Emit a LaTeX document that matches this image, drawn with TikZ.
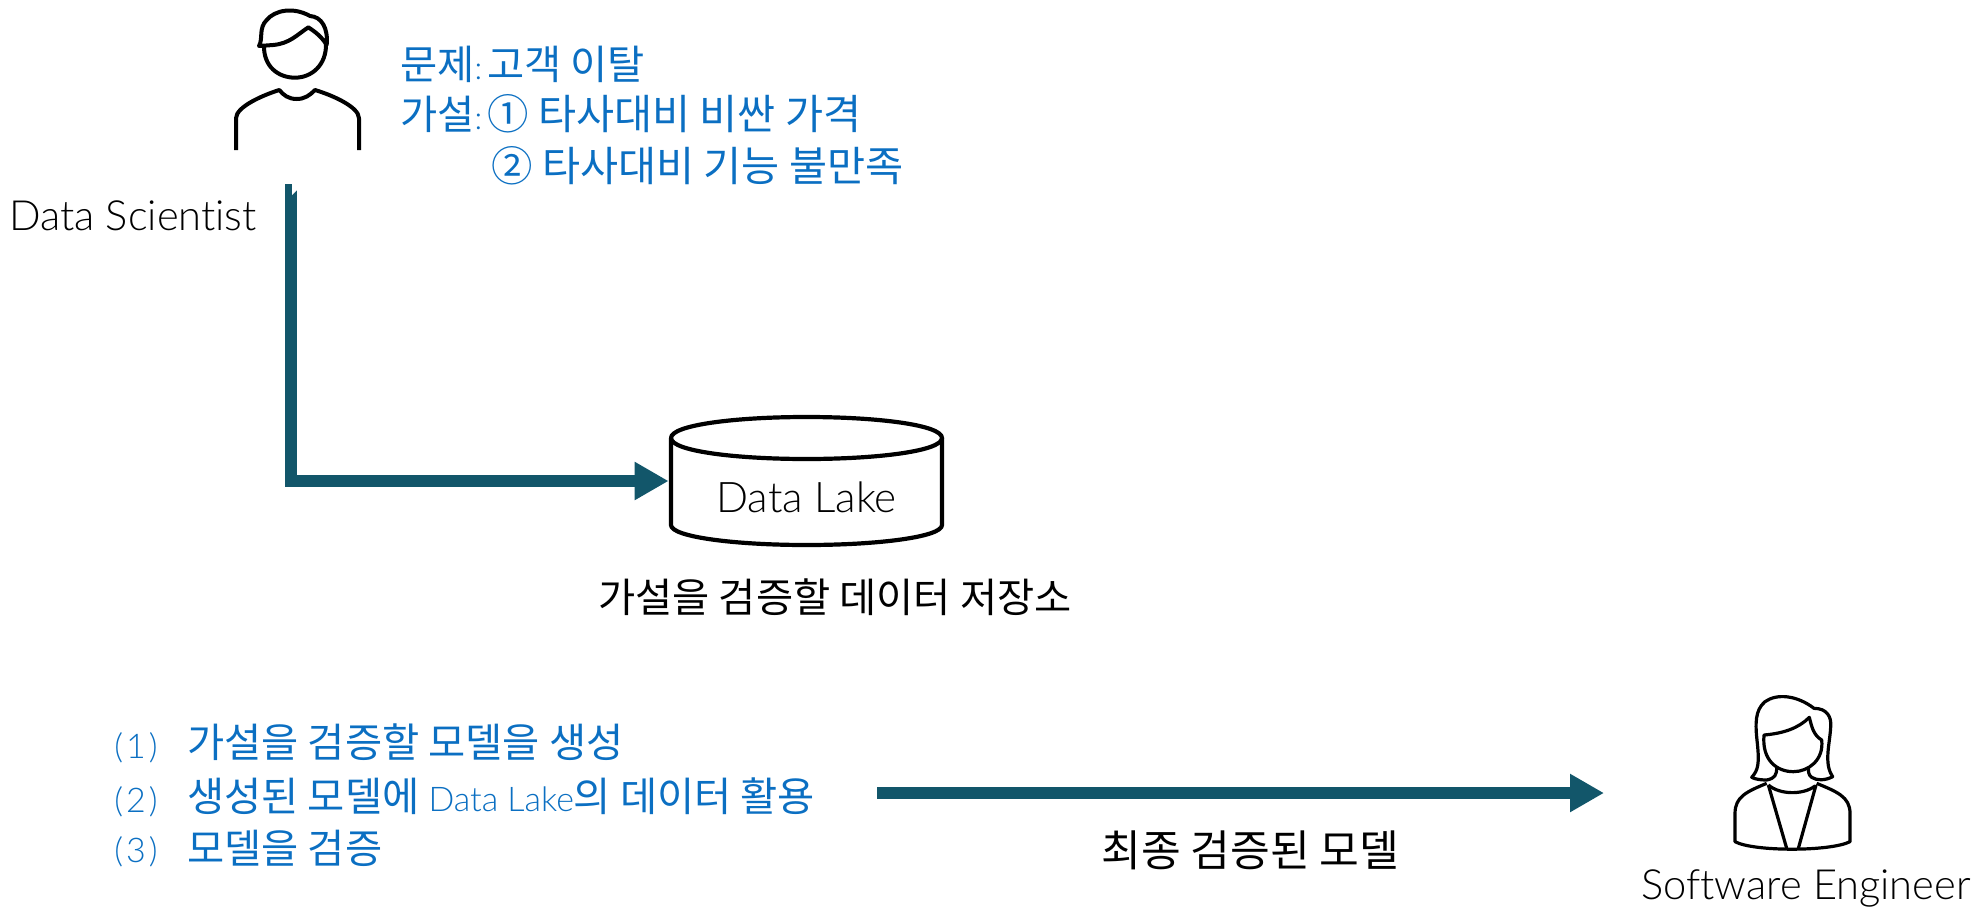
\documentclass[tikz,border=0pt]{standalone}
\usepackage{fontspec}
\usetikzlibrary{arrows.meta}
\setmainfont{Noto Sans CJK KR}
\newfontfamily\lat[Ligatures=NoCommon]{Lato Light}
\definecolor{teal}{HTML}{12566A}
\definecolor{blue}{HTML}{0B6FC2}
\newcommand{\colonmark}{{\lat\fontsize{16}{18}\selectfont:}}
\newcommand{\parnum}[1]{{\lat\fontsize{17}{19}\selectfont(\kern1.5pt#1\kern1.5pt)}}
\tikzset{
  flow/.style={draw=teal,line width=6pt,-{Triangle[length=17pt,width=18pt]}},
  icon/.style={draw=black,line width=2pt,line join=round},
  iconthin/.style={draw=black,line width=1.6pt,line join=round},
  txt/.style={anchor=west,inner sep=0pt,text=black},
  btxt/.style={txt,text=blue},
  ko/.style={font=\fontsize{20.2}{24}\selectfont},
  kowide/.style={font=\fontsize{20.7}{24}\selectfont},
  kofinal/.style={font=\fontsize{21.6}{24}\selectfont},
  en/.style={font=\lat\fontsize{20.8}{25}\selectfont},
}
\begin{document}
\begin{tikzpicture}[x=0.5pt,y=-0.5pt]
\useasboundingbox (0,0) rectangle (1984,910);
\begin{scope}[shift={(200,0)},x=.16667pt,y=-.16667pt]
  \draw[icon] (192,135) .. controls (190,200) and (235,233) .. (285,233) .. controls (335,233) and (380,195) .. (378,130);
  \draw[icon] (177,138) .. controls (190,115) and (175,85) .. (200,60) .. controls (225,30) and (280,20) .. (330,48) .. controls (365,50) and (385,85) .. (380,135) .. controls (365,110) and (345,95) .. (325,82) .. controls (290,105) and (270,130) .. (220,135) -- cycle;
  \draw[icon] (108,450) -- (108,355) .. controls (108,320) and (190,285) .. (238,270) .. controls (250,285) and (265,297) .. (290,297) .. controls (315,297) and (330,285) .. (345,270) .. controls (395,285) and (477,320) .. (477,355) -- (477,450);
\end{scope}
\begin{scope}[shift={(1620,680)},x=.16667pt,y=-.16667pt]
  \draw[iconthin] (432,165) .. controls (490,160) and (535,145) .. (568,112) .. controls (575,140) and (580,165) .. (605,180) .. controls (612,240) and (565,275) .. (520,275) .. controls (470,275) and (425,240) .. (432,165) -- cycle;
  \draw[iconthin] (470,262) .. controls (470,285) and (465,295) .. (440,300) .. controls (425,300) and (405,298) .. (395,292) .. controls (415,270) and (418,250) .. (412,190) .. controls (405,130) and (405,90) .. (435,65) .. controls (470,40) and (530,45) .. (582,85) .. controls (620,85) and (635,110) .. (632,140) .. controls (630,190) and (610,250) .. (638,290) .. controls (615,302) and (590,302) .. (575,292) .. controls (565,285) and (565,275) .. (565,262);
  \draw[iconthin] (440,310) .. controls (380,335) and (345,350) .. (345,400) -- (345,485) .. controls (400,515) and (630,515) .. (690,485) -- (690,400) .. controls (690,350) and (650,335) .. (590,310);
  \draw[iconthin] (445,315) .. controls (480,345) and (550,345) .. (585,318);
  \draw[iconthin] (445,315) -- (500,505);
  \draw[iconthin] (588,315) -- (535,505);
\end{scope}
% data lake
\node[minimum width=135.5pt,minimum height=64pt,inner sep=0pt] (lake) at (806.5,481) {};
\draw[icon,line width=2.1pt] (671,438) .. controls (671,425) and (735,417) .. (806.5,417) .. controls (878,417) and (942,425) .. (942,438) .. controls (942,451) and (878,459) .. (806.5,459) .. controls (735,459) and (671,451) .. (671,438) -- cycle;
\draw[icon,line width=2.1pt] (671,438) -- (671,525) .. controls (671,537) and (735,545) .. (806.5,545) .. controls (878,545) and (942,537) .. (942,525) -- (942,438);
\node[txt,font=\lat\fontsize{21.1}{26}\selectfont] (lakelabel) at (716,497) {Data Lake};
% connectors
\coordinate (dsout) at (291,184);
\draw[flow,shorten >=1pt] (dsout) |- (lake.west);
\fill[white] (292,183) -- (298,183) -- (298,189) -- (292,195) -- cycle;
\coordinate (modelout) at (877,793);
\coordinate (modelin) at (1604,793);
\draw[flow] (modelout) -- (modelin);
% labels
\node[txt,en] (ds) at (9,216) {Data Scientist};
\node[txt,en] (se) at (1641,888) {Software Engineer};
\node[btxt,ko] (p1) at (400,64) {문제\colonmark};
\node[btxt,ko] (p2) at (487,64) {고객 이탈};
\node[btxt,ko] (h1) at (400,114) {가설\colonmark};
\node[btxt,kowide] (h2) at (487,114) {① 타사대비 비싼 가격};
\node[btxt,kowide] (h3) at (491,166) {② 타사대비 기능 불만족};
\node[txt,ko] (store) at (598,597) {가설을 검증할 데이터 저장소};
\node[btxt,ko] (n1) at (114,748) {\parnum{1}};
\node[btxt,ko] (n2) at (114,802) {\parnum{2}};
\node[btxt,ko] (n3) at (114,852) {\parnum{3}};
\node[btxt,ko] (l1) at (187,742) {가설을 검증할 모델을 생성};
\node[btxt,ko] (l2) at (187,796) {생성된 모델에 {\lat\fontsize{17}{19}\selectfont Data Lake}의 데이터 활용};
\node[btxt,ko] (l3) at (187,848) {모델을 검증};
\node[txt,kofinal] (final) at (1101,850) {최종 검증된 모델};
\end{tikzpicture}
\end{document}
